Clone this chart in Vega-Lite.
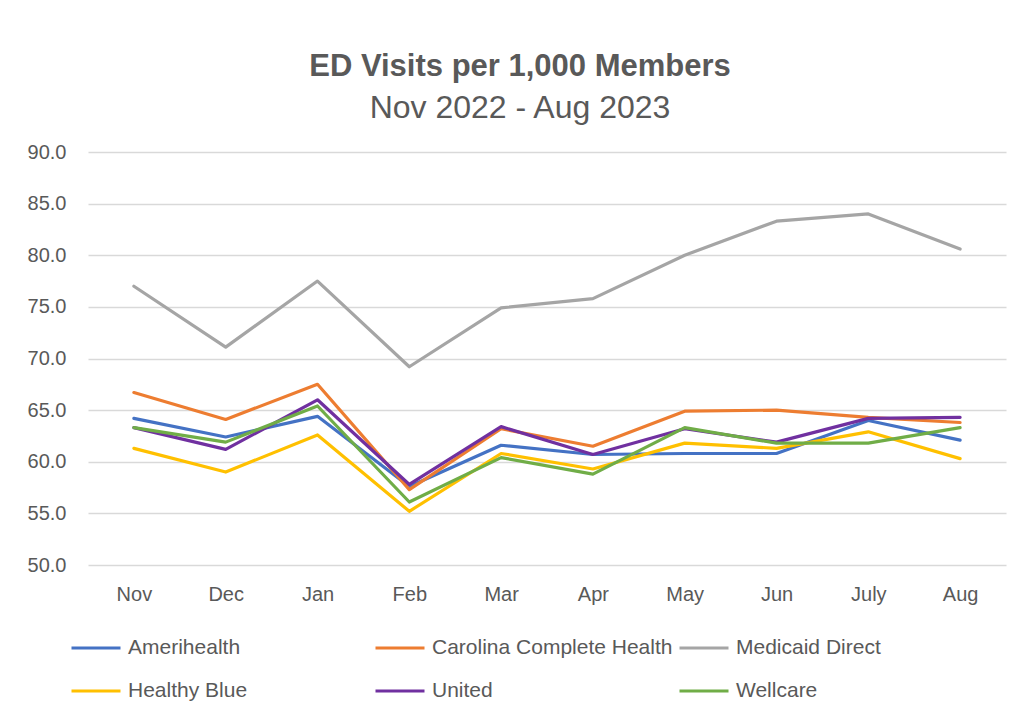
{
  "$schema": "https://vega.github.io/schema/vega-lite/v6.json",
  "autosize": "none",
  "width": 918,
  "height": 413,
  "padding": {"left": 88, "top": 152, "right": 18, "bottom": 152},
  "background": "white",
  "title": {
    "text": "ED Visits per 1,000 Members",
    "subtitle": "Nov 2022 - Aug 2023",
    "anchor": "middle",
    "frame": "group",
    "dx": -27,
    "offset": 17,
    "font": "Liberation Sans",
    "fontSize": 31,
    "fontWeight": "bold",
    "color": "#595959",
    "subtitleFont": "Liberation Sans",
    "subtitleFontSize": 32,
    "subtitleColor": "#595959",
    "subtitlePadding": 10
  },
  "data": {
    "values": [
      {"month": "Nov", "plan": "Amerihealth", "value": 64.2},
      {"month": "Dec", "plan": "Amerihealth", "value": 62.4},
      {"month": "Jan", "plan": "Amerihealth", "value": 64.4},
      {"month": "Feb", "plan": "Amerihealth", "value": 57.6},
      {"month": "Mar", "plan": "Amerihealth", "value": 61.6},
      {"month": "Apr", "plan": "Amerihealth", "value": 60.7},
      {"month": "May", "plan": "Amerihealth", "value": 60.8},
      {"month": "Jun", "plan": "Amerihealth", "value": 60.8},
      {"month": "July", "plan": "Amerihealth", "value": 64.0},
      {"month": "Aug", "plan": "Amerihealth", "value": 62.1},
      {"month": "Nov", "plan": "Carolina Complete Health", "value": 66.7},
      {"month": "Dec", "plan": "Carolina Complete Health", "value": 64.1},
      {"month": "Jan", "plan": "Carolina Complete Health", "value": 67.5},
      {"month": "Feb", "plan": "Carolina Complete Health", "value": 57.3},
      {"month": "Mar", "plan": "Carolina Complete Health", "value": 63.2},
      {"month": "Apr", "plan": "Carolina Complete Health", "value": 61.5},
      {"month": "May", "plan": "Carolina Complete Health", "value": 64.9},
      {"month": "Jun", "plan": "Carolina Complete Health", "value": 65.0},
      {"month": "July", "plan": "Carolina Complete Health", "value": 64.3},
      {"month": "Aug", "plan": "Carolina Complete Health", "value": 63.8},
      {"month": "Nov", "plan": "Medicaid Direct", "value": 77.0},
      {"month": "Dec", "plan": "Medicaid Direct", "value": 71.1},
      {"month": "Jan", "plan": "Medicaid Direct", "value": 77.5},
      {"month": "Feb", "plan": "Medicaid Direct", "value": 69.2},
      {"month": "Mar", "plan": "Medicaid Direct", "value": 74.9},
      {"month": "Apr", "plan": "Medicaid Direct", "value": 75.8},
      {"month": "May", "plan": "Medicaid Direct", "value": 80.0},
      {"month": "Jun", "plan": "Medicaid Direct", "value": 83.3},
      {"month": "July", "plan": "Medicaid Direct", "value": 84.0},
      {"month": "Aug", "plan": "Medicaid Direct", "value": 80.6},
      {"month": "Nov", "plan": "Healthy Blue", "value": 61.3},
      {"month": "Dec", "plan": "Healthy Blue", "value": 59.0},
      {"month": "Jan", "plan": "Healthy Blue", "value": 62.6},
      {"month": "Feb", "plan": "Healthy Blue", "value": 55.2},
      {"month": "Mar", "plan": "Healthy Blue", "value": 60.8},
      {"month": "Apr", "plan": "Healthy Blue", "value": 59.3},
      {"month": "May", "plan": "Healthy Blue", "value": 61.8},
      {"month": "Jun", "plan": "Healthy Blue", "value": 61.3},
      {"month": "July", "plan": "Healthy Blue", "value": 62.9},
      {"month": "Aug", "plan": "Healthy Blue", "value": 60.3},
      {"month": "Nov", "plan": "United", "value": 63.3},
      {"month": "Dec", "plan": "United", "value": 61.2},
      {"month": "Jan", "plan": "United", "value": 66.0},
      {"month": "Feb", "plan": "United", "value": 57.8},
      {"month": "Mar", "plan": "United", "value": 63.4},
      {"month": "Apr", "plan": "United", "value": 60.7},
      {"month": "May", "plan": "United", "value": 63.2},
      {"month": "Jun", "plan": "United", "value": 61.9},
      {"month": "July", "plan": "United", "value": 64.2},
      {"month": "Aug", "plan": "United", "value": 64.3},
      {"month": "Nov", "plan": "Wellcare", "value": 63.3},
      {"month": "Dec", "plan": "Wellcare", "value": 61.9},
      {"month": "Jan", "plan": "Wellcare", "value": 65.4},
      {"month": "Feb", "plan": "Wellcare", "value": 56.1},
      {"month": "Mar", "plan": "Wellcare", "value": 60.4},
      {"month": "Apr", "plan": "Wellcare", "value": 58.8},
      {"month": "May", "plan": "Wellcare", "value": 63.3},
      {"month": "Jun", "plan": "Wellcare", "value": 61.8},
      {"month": "July", "plan": "Wellcare", "value": 61.8},
      {"month": "Aug", "plan": "Wellcare", "value": 63.3}
    ]
  },
  "mark": {"type": "line", "strokeWidth": 3.2, "strokeJoin": "round", "strokeCap": "round"},
  "encoding": {
    "x": {
      "field": "month",
      "type": "ordinal",
      "sort": ["Nov", "Dec", "Jan", "Feb", "Mar", "Apr", "May", "Jun", "July", "Aug"],
      "scale": {"type": "point", "padding": 0.5},
      "axis": {
        "title": null,
        "labelAngle": 0,
        "ticks": false,
        "domain": false,
        "grid": false,
        "labelPadding": 19,
        "labelFont": "Liberation Sans",
        "labelFontSize": 20,
        "labelColor": "#595959"
      }
    },
    "y": {
      "field": "value",
      "type": "quantitative",
      "scale": {"domain": [50, 90], "nice": false, "zero": false},
      "axis": {
        "title": null,
        "values": [50, 55, 60, 65, 70, 75, 80, 85, 90],
        "format": ".1f",
        "ticks": false,
        "domain": false,
        "grid": true,
        "gridColor": "#d9d9d9",
        "gridWidth": 1.5,
        "labelPadding": 22,
        "labelFont": "Liberation Sans",
        "labelFontSize": 20,
        "labelColor": "#595959"
      }
    },
    "color": {
      "field": "plan",
      "type": "nominal",
      "scale": {
        "domain": ["Amerihealth", "Carolina Complete Health", "Medicaid Direct", "Healthy Blue", "United", "Wellcare"],
        "range": ["#4472C4", "#ED7D31", "#A5A5A5", "#FFC000", "#7030A0", "#70AD47"]
      },
      "legend": {
        "title": null,
        "orient": "none",
        "direction": "horizontal",
        "legendX": -18,
        "legendY": 470,
        "columns": 3,
        "gridAlign": "all",
        "columnPadding": 0,
        "rowPadding": 7,
        "symbolType": "stroke",
        "symbolSize": 2401,
        "symbolStrokeWidth": 3,
        "labelOffset": 6,
        "labelFont": "Liberation Sans",
        "labelFontSize": 21,
        "labelColor": "#595959",
        "labelLimit": 400
      }
    }
  },
  "config": {"view": {"stroke": null}}
}
